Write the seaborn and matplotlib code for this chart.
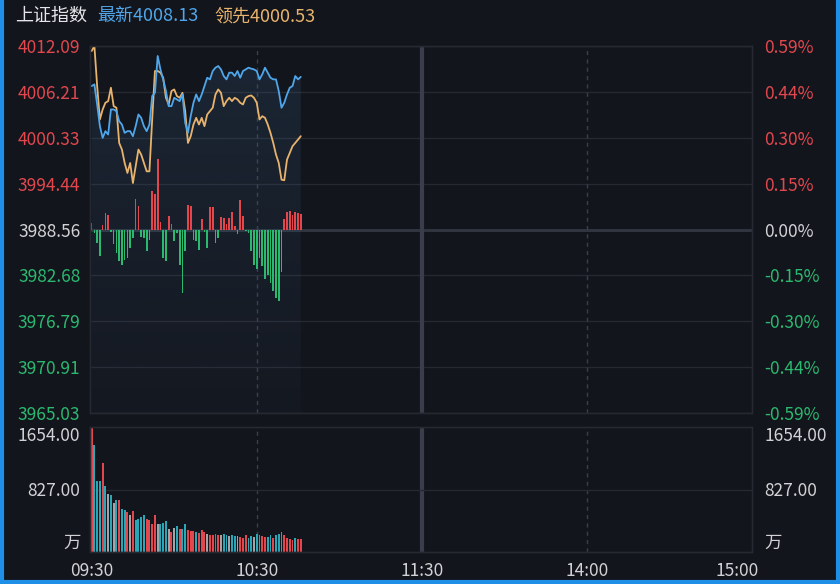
import numpy as np
import matplotlib
matplotlib.use("Agg")
import matplotlib.pyplot as plt
import matplotlib.transforms as mtransforms
from matplotlib.lines import Line2D
import seaborn as sns
import pandas as pd

# --- data ---
title_name = "上证指数"
last_label = "最新4008.13"
lead_label = "领先4000.53"

base_price = 3988.56
price_ticks = [4012.09, 4006.21, 4000.33, 3994.44, 3988.56, 3982.68, 3976.79, 3970.91, 3965.03]
pct_labels = ["0.59%", "0.44%", "0.30%", "0.15%", "0.00%", "-0.15%", "-0.30%", "-0.44%", "-0.59%"]
time_ticks = [0, 60, 120, 180, 240]
time_labels = ["09:30", "10:30", "11:30", "14:00", "15:00"]
vol_ticks = [0, 827, 1654]
vol_labels = ["万", "827.00", "1654.00"]

price_last = [4006.95, 4007.17, 4004.59, 4001.81, 4000.31, 4001.17, 4000.74, 4003.95, 4003.95, 4003.74,
              4002.45, 4002.02, 4000.95, 4001.17, 4001.17, 4000.52, 4001.81, 4003.31, 4002.88, 4001.81,
              4001.17, 4002.02, 4005.67, 4006.09, 4010.81, 4009.09, 4007.81, 4006.31, 4004.38, 4004.38,
              4005.45, 4005.24, 4005.02, 4005.88, 4002.24, 4000.95, 4003.09, 4004.81, 4005.88, 4005.02,
              4005.88, 4006.95, 4008.02, 4007.81, 4008.88, 4009.31, 4009.52, 4009.09, 4008.24, 4007.81,
              4008.67, 4008.67, 4008.24, 4008.88, 4008.02, 4008.88, 4009.09, 4009.31, 4009.18, 4009.09,
              4008.88, 4007.81, 4008.45, 4009.31, 4008.67, 4008.02, 4007.81, 4007.81, 4006.31, 4004.17,
              4004.81, 4005.88, 4006.74, 4006.95, 4008.24, 4007.81, 4008.13]

price_lead = [4011.45, 4012.09, 4006.95, 4002.67, 4003.95, 4004.81, 4005.02, 4006.74, 4004.38, 4004.17,
              3999.66, 3998.81, 3997.09, 3995.81, 3997.09, 3994.52, 3996.67, 3998.81, 3998.17, 3997.09,
              3996.02, 3996.02, 4002.67, 4008.88, 4008.88, 4008.67, 4008.02, 4005.45, 4004.59, 4006.31,
              4006.52, 4005.67, 4005.45, 4006.09, 4003.74, 3999.66, 4000.52, 4002.02, 4002.88, 4002.02,
              4002.88, 4001.81, 4003.31, 4003.74, 4004.17, 4005.88, 4006.52, 4006.09, 4004.38, 4005.02,
              4005.45, 4005.02, 4005.45, 4005.24, 4004.81, 4004.59, 4005.45, 4005.67, 4005.75, 4005.45,
              4004.81, 4002.67, 4003.09, 4002.88, 4002.02, 4000.95, 3999.66, 3998.17, 3997.09, 3994.95,
              3994.87, 3997.52, 3998.38, 3999.24, 3999.66, 4000.09, 4000.53]

# buy/sell strength bars (index points around the base line)
strength = [0.8, -0.4, -1.7, -3.4, 0.6, 2.1, 1.9, -0.3, -1.9, -3.0,
            -4.1, -4.5, -3.9, -3.6, -2.4, -1.1, 3.9, 3.0, -0.9, -1.1,
            -2.8, -1.3, 4.9, 4.5, 9.1, 0.9, -3.6, -4.1, 1.7, 0.7,
            -1.5, -0.4, -4.5, -8.1, -2.8, 3.2, 3.0, -1.3, -1.5, -2.6,
            1.3, -0.3, -2.4, 2.9, 2.9, -1.7, -1.1, 1.6, 1.5, 0.7,
            1.5, 2.3, 0.4, -0.6, 3.8, 1.7, -0.2, -0.4, -2.8, -4.5,
            -5.1, -3.6, -4.7, -6.4, -5.8, -6.9, -7.9, -8.8, -9.2, -5.4,
            1.3, 2.3, 2.4, 1.9, 2.2, 2.1, 2.0]

volume = [1654, 1419, 940, 940, 1184, 873, 767, 754, 643, 687,
          687, 563, 554, 532, 488, 541, 421, 435, 466, 488,
          443, 421, 368, 488, 368, 377, 386, 408, 310, 266,
          324, 341, 310, 310, 368, 288, 279, 275, 266, 257,
          288, 266, 244, 222, 231, 244, 222, 222, 235, 222,
          213, 222, 208, 208, 200, 191, 222, 191, 208, 200,
          244, 231, 208, 200, 200, 222, 191, 222, 244, 266,
          222, 191, 177, 164, 191, 177, 177]
vol_dir = ["up", "down", "down", "down", "up", "down", "flat", "down", "flat", "down",
           "up", "down", "down", "up", "flat", "up", "down", "down", "down", "down",
           "up", "up", "up", "up", "flat", "down", "down", "down", "flat", "up",
           "flat", "down", "up", "down", "down", "up", "up", "up", "down", "up",
           "up", "up", "flat", "up", "up", "up", "up", "flat", "down", "down",
           "flat", "down", "down", "flat", "up", "up", "up", "down", "down", "flat",
           "down", "down", "up", "up", "down", "down", "up", "down", "down", "down",
           "up", "up", "up", "up", "down", "up", "up"]
auction_volume = 625

minutes = np.arange(len(price_last))
df = pd.DataFrame({"minute": minutes, "last": price_last, "lead": price_lead})

# --- colours ---
BG = "#13151c"
GRID = "#262932"
RED = "#e2474e"
GREEN = "#2bb86f"
BLUE = "#4fa6ea"
ORANGE = "#e8b36c"
TEAL = "#2aa6b6"
GREY = "#a3a3a8"
TXT = "#d2d2d6"
vol_colors = {"up": RED, "down": TEAL, "flat": GREY}

sns.set_theme(style="dark", rc={"axes.facecolor": BG, "figure.facecolor": BG})
plt.rcParams["font.family"] = ["Noto Sans CJK SC", "DejaVu Sans"]

XMIN = -0.6
fig = plt.figure(figsize=(8.4, 5.84), dpi=100)
ax = fig.add_axes([90 / 840, 1 - 413 / 584, 662 / 840, 367 / 584])
axv = fig.add_axes([90 / 840, 1 - 552 / 584, 662 / 840, 125 / 584])

# --- price panel ---
for p in price_ticks:
    if p == base_price:
        ax.axhline(p, color="#30343f", lw=2.2, zorder=1)
    else:
        ax.axhline(p, color=GRID, lw=1, zorder=1)
for a in (ax, axv):
    a.axvline(60, color="#3a3e4a", lw=1, ls=(0, (3, 3)), zorder=1)
    a.axvline(120, color="#3a3e4a", lw=3, zorder=1)
    a.axvline(180, color="#3a3e4a", lw=1, ls=(0, (3, 3)), zorder=1)

# faint gradient under the latest-price line
poly = ax.fill_between(df["minute"], df["last"], price_ticks[-1], color="none", lw=0)
grad = np.zeros((256, 1, 4))
grad[:, 0, :3] = matplotlib.colors.to_rgb("#3d6b96")
grad[:, 0, 3] = np.linspace(0.2, 0.04, 256)
im = ax.imshow(grad, extent=[0, minutes[-1], price_ticks[-1], price_ticks[0]],
               aspect="auto", origin="upper", zorder=1)
im.set_clip_path(poly.get_paths()[0], transform=ax.transData)

s = np.array(strength)
ax.bar(minutes, s, bottom=base_price, width=0.6, linewidth=0, edgecolor="none",
       color=[RED if v > 0 else GREEN for v in s], zorder=2)

sns.lineplot(data=df, x="minute", y="lead", color=ORANGE, lw=1.3, ax=ax, zorder=3)
sns.lineplot(data=df, x="minute", y="last", color=BLUE, lw=1.3, ax=ax, zorder=4)

ax.set_xlim(XMIN, 240)
ax.set_ylim(price_ticks[-1], price_ticks[0])
ax.set_yticks(price_ticks)
ax.set_yticklabels([f"{p:.2f}" for p in price_ticks])
ax.set_xticks([])
ax.set_xlabel("")
ax.set_ylabel("")
ax.tick_params(axis="y", length=0, pad=7, labelsize=12.5)

def side_color(i):
    if price_ticks[i] > base_price:
        return RED
    if price_ticks[i] < base_price:
        return GREEN
    return TXT

for i, lab in enumerate(ax.get_yticklabels()):
    lab.set_color(side_color(i))

axr = ax.twinx()
axr.set_ylim(ax.get_ylim())
axr.set_yticks(price_ticks)
axr.set_yticklabels(pct_labels)
axr.tick_params(axis="y", length=0, pad=9, labelsize=12.5)
axr.grid(False)
for i, lab in enumerate(axr.get_yticklabels()):
    lab.set_color(side_color(i))

# --- volume panel ---
axv.axhline(827, color=GRID, lw=1, zorder=1)
axv.bar(minutes, volume, width=0.7, linewidth=0, edgecolor="none",
        color=[vol_colors[d] for d in vol_dir], zorder=2)
axv.bar([-0.4], [auction_volume], width=0.35, linewidth=0, color="#f2dede", zorder=3)
axv.set_xlim(XMIN, 240)
axv.set_ylim(0, 1654)
axv.set_yticks(vol_ticks)
axv.set_yticklabels(vol_labels)
axv.set_xticks(time_ticks)
axv.set_xticklabels(time_labels)
axv.tick_params(axis="y", length=0, pad=7, labelsize=12.5, labelcolor=TXT)
axv.tick_params(axis="x", length=0, pad=7, labelsize=12.5, labelcolor=TXT)
ylabs = axv.get_yticklabels()
ylabs[0].set_va("bottom")
ylabs[2].set_va("top")
shift = mtransforms.ScaledTranslation(-0.15, 0, fig.dpi_scale_trans)
xl = axv.get_xticklabels()[-1]
xl.set_transform(xl.get_transform() + shift)

axvr = axv.twinx()
axvr.set_ylim(0, 1654)
axvr.set_yticks(vol_ticks)
axvr.set_yticklabels(vol_labels)
axvr.tick_params(axis="y", length=0, pad=9, labelsize=12.5, labelcolor=TXT)
axvr.grid(False)
rlabs = axvr.get_yticklabels()
rlabs[0].set_va("bottom")
rlabs[2].set_va("top")

for a in (ax, axr, axv, axvr):
    a.grid(False)
    for sp in a.spines.values():
        sp.set_color(GRID)
        sp.set_linewidth(1)

# --- header ---
fig.text(15 / 840, 1 - 16 / 584, title_name, color="#e6e6ea", fontsize=13, va="center")
fig.text(97 / 840, 1 - 16 / 584, last_label, color=BLUE, fontsize=13, va="center")
fig.text(214 / 840, 1 - 16 / 584, lead_label, color=ORANGE, fontsize=13, va="center")

# blue window frame
for xs, ys in [([0.002, 0.002], [0, 1]), ([0.998, 0.998], [0, 1]), ([0, 1], [0.003, 0.003])]:
    fig.add_artist(Line2D(xs, ys, color="#1e8ee6", lw=3, transform=fig.transFigure))

fig.savefig("out.png", dpi=100, facecolor=BG)
